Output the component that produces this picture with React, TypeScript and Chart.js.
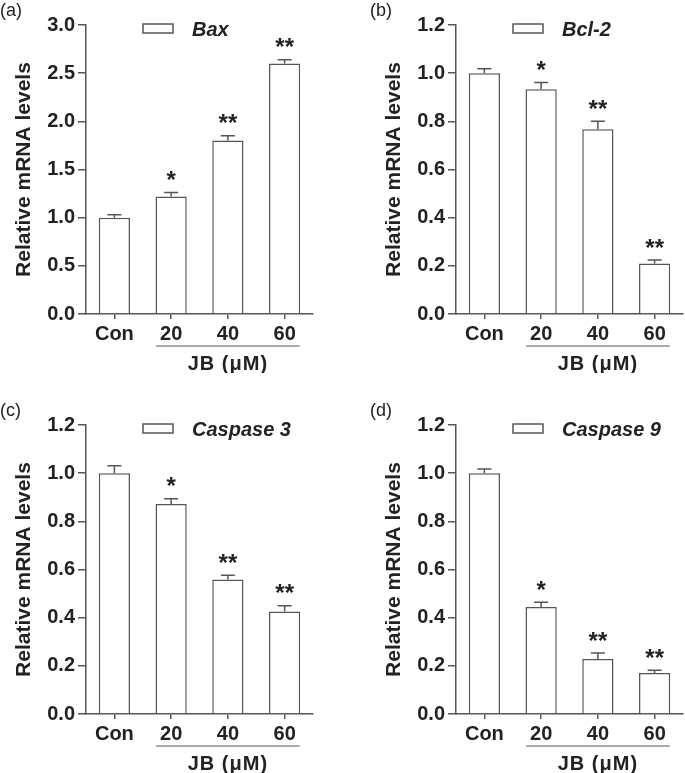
import React, { useEffect, useRef } from "react";
import { Chart, registerables } from "chart.js";

Chart.register(...registerables);

const categories = ["Con", "20", "40", "60"];
const groupLabel = "JB (μM)";
const yTitle = "Relative mRNA levels";

const panelLetters = ["(a)", "(b)", "(c)", "(d)"];
const geneNames = ["Bax", "Bcl-2", "Caspase 3", "Caspase 9"];

const baxMean = [1.0, 1.22, 1.8, 2.6];
const baxErr = [0.03, 0.04, 0.05, 0.04];
const bcl2Mean = [1.0, 0.933, 0.767, 0.21];
const bcl2Err = [0.018, 0.028, 0.033, 0.014];
const casp3Mean = [1.0, 0.872, 0.558, 0.426];
const casp3Err = [0.031, 0.022, 0.018, 0.024];
const casp9Mean = [1.0, 0.444, 0.228, 0.17];
const casp9Err = [0.017, 0.02, 0.025, 0.012];

const baxStars = ["", "*", "**", "**"];
const bcl2Stars = ["", "*", "**", "**"];
const casp3Stars = ["", "*", "**", "**"];
const casp9Stars = ["", "*", "**", "**"];

const yMaxes = [3.0, 1.2, 1.2, 1.2];
const ySteps = [0.5, 0.2, 0.2, 0.2];

const means = [baxMean, bcl2Mean, casp3Mean, casp9Mean];
const errs = [baxErr, bcl2Err, casp3Err, casp9Err];
const stars = [baxStars, bcl2Stars, casp3Stars, casp9Stars];

const FONT = "'Liberation Sans', Arial, Helvetica, sans-serif";
const LINE = "#555555";
const TEXT = "#222222";

const CW = 315;
const CH = 373;
const positions = [
  { left: 0, top: 0 },
  { left: 370, top: 0 },
  { left: 0, top: 400 },
  { left: 370, top: 400 },
];

function Panel({ idx }: { idx: number }) {
  const ref = useRef<HTMLCanvasElement | null>(null);
  useEffect(() => {
    if (!ref.current) return;
    const mean = means[idx];
    const err = errs[idx];
    const st = stars[idx];
    const overlay = {
      id: "overlay" + idx,
      afterDatasetsDraw(chart: any) {
        const ctx = chart.ctx;
        const xs = chart.scales.x;
        const ys = chart.scales.y;
        const area = chart.chartArea;
        ctx.save();
        ctx.strokeStyle = LINE;
        ctx.lineWidth = 1.5;
        // error bars
        for (let i = 0; i < mean.length; i++) {
          const x = xs.getPixelForValue(i);
          const y0 = ys.getPixelForValue(mean[i]);
          const y1 = ys.getPixelForValue(mean[i] + err[i]);
          ctx.beginPath();
          ctx.moveTo(x, y0);
          ctx.lineTo(x, y1);
          ctx.moveTo(x - 7, y1);
          ctx.lineTo(x + 7, y1);
          ctx.stroke();
          if (st[i]) {
            ctx.fillStyle = TEXT;
            ctx.font = `bold 24px ${FONT}`;
            ctx.textAlign = "center";
            ctx.textBaseline = "alphabetic";
            ctx.fillText(st[i], x, y1 - 17.5 + 13);
          }
        }
        // legend
        const bx = area.left + 57;
        ctx.fillStyle = "#ffffff";
        ctx.fillRect(bx, 24, 30, 9);
        ctx.strokeRect(bx, 24, 30, 9);
        ctx.fillStyle = TEXT;
        ctx.font = `italic bold 20px ${FONT}`;
        ctx.textAlign = "left";
        ctx.textBaseline = "middle";
        ctx.fillText(geneNames[idx], bx + 49, 30);
        // group underline
        const ux0 = xs.getPixelForValue(1) - 15;
        const ux1 = xs.getPixelForValue(3) + 15;
        const uy = area.bottom + 32;
        ctx.lineWidth = 1.2;
        ctx.beginPath();
        ctx.moveTo(ux0, uy);
        ctx.lineTo(ux1, uy);
        ctx.stroke();
        ctx.font = `bold 20px ${FONT}`;
        ctx.textAlign = "center";
        ctx.textBaseline = "middle";
        try {
          (ctx as any).letterSpacing = "1px";
        } catch (e) {}
        ctx.fillText(groupLabel, (ux0 + ux1) / 2, area.bottom + 50);
        try {
          (ctx as any).letterSpacing = "0px";
        } catch (e) {}
        // panel letter
        ctx.font = `18px ${FONT}`;
        ctx.textAlign = "left";
        ctx.textBaseline = "top";
        ctx.fillText(panelLetters[idx], 0, 2);
        ctx.restore();
      },
    };
    const chart = new Chart(ref.current, {
      type: "bar",
      data: {
        labels: categories,
        datasets: [
          {
            label: geneNames[idx],
            data: mean,
            backgroundColor: "#ffffff",
            borderColor: LINE,
            borderWidth: 1.5,
            barPercentage: 0.55,
            categoryPercentage: 1.0,
          },
        ],
      },
      options: {
        responsive: false,
        animation: false,
        devicePixelRatio: 1,
        layout: { padding: { left: 0, right: 2, top: 25, bottom: 0 } },
        plugins: { legend: { display: false }, tooltip: { enabled: false } },
        scales: {
          x: {
            grid: {
              display: true,
              drawOnChartArea: false,
              offset: false,
              tickLength: 5,
              color: LINE,
              lineWidth: 1.5,
            },
            border: { display: true, color: LINE, width: 1.5 },
            ticks: {
              font: { family: FONT, size: 20, weight: "bold" },
              color: TEXT,
              padding: 3,
              maxRotation: 0,
            },
            afterFit: (s: any) => {
              s.height = CH - 314;
            },
          },
          y: {
            min: 0,
            max: yMaxes[idx],
            ticks: {
              stepSize: ySteps[idx],
              font: { family: FONT, size: 20, weight: "bold" },
              color: TEXT,
              padding: 3,
              callback: (v: any) => Number(v).toFixed(1),
            },
            grid: {
              display: true,
              drawOnChartArea: false,
              tickLength: 8,
              color: LINE,
              lineWidth: 1.5,
            },
            border: { display: true, color: LINE, width: 1.5 },
            title: {
              display: true,
              text: yTitle,
              font: { family: FONT, size: 21, weight: "bold" },
              color: TEXT,
              padding: { top: 12, bottom: 0 },
            },
            afterFit: (s: any) => {
              s.width = 86;
            },
          },
        },
      },
      plugins: [overlay],
    });
    return () => chart.destroy();
  }, [idx]);
  const p = positions[idx];
  return (
    <canvas
      ref={ref}
      width={CW}
      height={CH}
      style={{ position: "absolute", left: p.left, top: p.top, width: CW, height: CH }}
    />
  );
}

export default function App() {
  return (
    <div
      style={{
        position: "absolute",
        left: 0,
        top: 0,
        width: 685,
        height: 773,
        background: "#ffffff",
        overflow: "hidden",
      }}
    >
      {[0, 1, 2, 3].map((i) => (
        <Panel key={i} idx={i} />
      ))}
    </div>
  );
}
